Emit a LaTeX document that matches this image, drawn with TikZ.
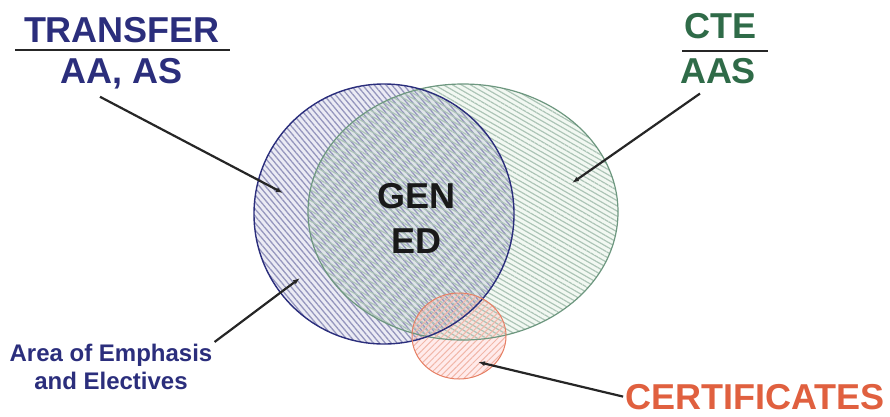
\documentclass[tikz,border=0pt]{standalone}
\usepackage{fontspec}
\setmainfont{Liberation Sans}
\usepackage{xcolor}
\usepackage{tikz}
\usetikzlibrary{patterns.meta, arrows.meta, calc}

\definecolor{navy}{HTML}{2B2E7C}
\definecolor{ctegreen}{HTML}{2F6B48}
\definecolor{certred}{HTML}{E0603F}

\begin{document}
\begin{tikzpicture}[
    x=1pt, y=-1pt,
    big/.style={font=\bfseries\fontsize{36}{40}\selectfont, inner sep=2pt, anchor=base},
    small/.style={font=\bfseries\fontsize{24}{28}\selectfont, align=center, inner sep=2pt},
    bar/.style={line width=2pt, black!85},
    pointer/.style={line width=2.2pt, black!85, -{Latex[length=7pt, width=5pt]}}
]
\useasboundingbox (0,0) rectangle (890,416);

% tinted areas
\fill[blue!30!gray, fill opacity=0.12] (384,214) circle [radius=130];
\fill[green!30!gray, fill opacity=0.08] (463,212) ellipse [x radius=155, y radius=128];
\fill[red!40, fill opacity=0.20] (459,336) ellipse [x radius=47, y radius=43];

% hatching
\fill[pattern={Lines[angle=-50, distance=4.5pt, line width=1.3pt]}, pattern color=navy!50]
  (384,214) circle [radius=130];
\fill[pattern={Lines[angle=-30, distance=4.5pt, line width=1.2pt]}, pattern color=ctegreen!40]
  (463,212) ellipse [x radius=155, y radius=128];
\fill[pattern={Lines[angle=45, distance=4.5pt, line width=1pt]}, pattern color=certred!45]
  (459,336) ellipse [x radius=47, y radius=43];

% outlines
\draw[ctegreen!70, line width=1.2pt] (463,212) ellipse [x radius=155, y radius=128];
\draw[navy, line width=1.4pt] (384,214) circle [radius=130];
\draw[certred!80, line width=1pt] (459,336) ellipse [x radius=47, y radius=43];

% labels
\node[big, text=navy] (transfer) at (122,42) {TRANSFER};
\node[big, text=navy] (aaas) at (122,83) {AA, AS};
\node[big, text=ctegreen] (cte) at (720,38) {CTE};
\node[big, text=ctegreen] (aas) at (718,83) {AAS};
\node[big, text=black!90] (gen) at (416,208) {GEN};
\node[big, text=black!90] (ed) at (416,253) {ED};
\node[small, text=navy] (area) at (111,367) {Area of Emphasis\\and Electives};
\node[big, text=certred] (cert) at (755,409) {CERTIFICATES};

\draw[bar] (15,50) -- (230,50);
\draw[bar] (682,51) -- (768,51);

% pointer tips
\coordinate (transfer-tip) at (283,193);
\coordinate (cte-tip) at (572,183);
\coordinate (area-tip) at (300,278);
\coordinate (cert-tip) at (478,362);

\draw[pointer] ([xshift=-22pt, yshift=-6pt]aaas.south) -- (transfer-tip);
\draw[pointer] ([xshift=-18pt, yshift=-8pt]aas.south) -- (cte-tip);
\draw[pointer] (area.north east) -- (area-tip);
\draw[pointer] (cert.west) -- (cert-tip);
\end{tikzpicture}
\end{document}
